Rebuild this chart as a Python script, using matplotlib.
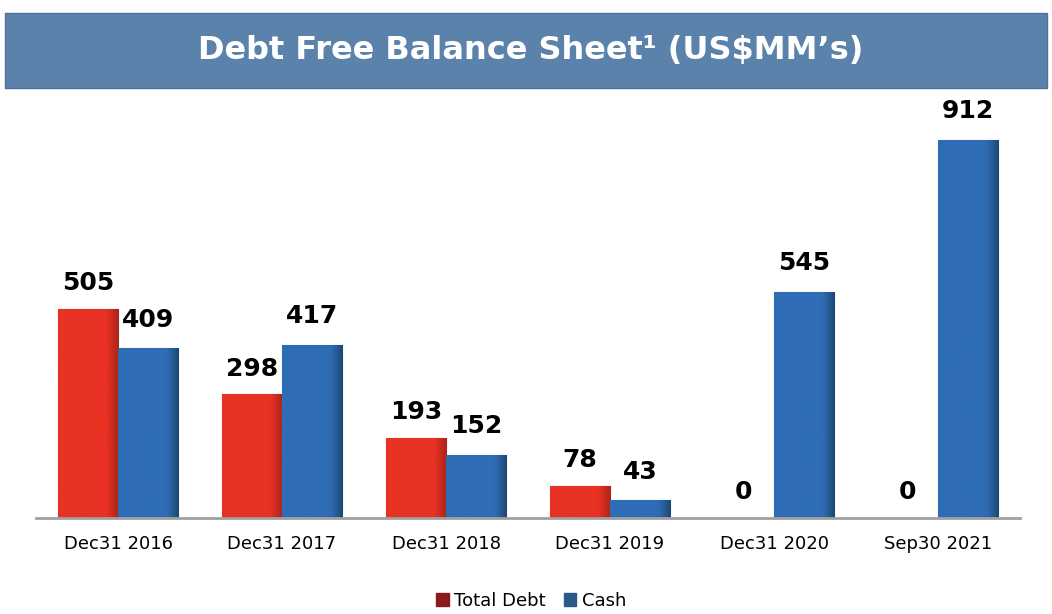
import matplotlib.pyplot as plt
import numpy as np
from matplotlib.patches import Rectangle, Patch
from matplotlib.colors import LinearSegmentedColormap

categories = ['Dec31 2016', 'Dec31 2017', 'Dec31 2018', 'Dec31 2019', 'Dec31 2020', 'Sep30 2021']
total_debt = [505, 298, 193, 78, 0, 0]
cash = [409, 417, 152, 43, 545, 912]

red = '#e83223'
blue = '#2e6db5'

fig = plt.figure(figsize=(10.52, 6.14), dpi=100)
ax = fig.add_axes([36 / 1052, 1 - 518 / 614, 984 / 1052, 418 / 614])

# title banner
fig.patches.append(Rectangle((5 / 1052, 1 - 88 / 614), 1042 / 1052, 75 / 614,
                             transform=fig.transFigure, facecolor='#5b82ab',
                             edgecolor='#4d7299', lw=1, zorder=0))
fig.text(531 / 1052, 1 - 51 / 614, 'Debt Free Balance Sheet¹ (US$MM’s)',
         ha='center', va='center', color='white', fontsize=23, fontweight='bold')

x = np.arange(len(categories))
w = 0.366
b1 = ax.bar(x - w / 2, total_debt, w, color=red, edgecolor='#c22a1c', lw=0.8)
b2 = ax.bar(x + w / 2, cash, w, color=blue, edgecolor='#3f7fc0', lw=0.8)

# soft shading towards the right edge of each bar
grad = np.linspace(0, 1, 100).reshape(1, -1) ** 3
cm_red = LinearSegmentedColormap.from_list('r', [red, red, '#a8231a'])
cm_blue = LinearSegmentedColormap.from_list('b', [blue, blue, '#1d4670'])
for bars, cm in [(b1, cm_red), (b2, cm_blue)]:
    for p in bars:
        if p.get_height() <= 0:
            continue
        im = ax.imshow(grad, extent=[p.get_x(), p.get_x() + p.get_width(), 0, p.get_height()],
                       aspect='auto', cmap=cm, zorder=2)
        im.set_clip_path(p)

for xi, v in zip(x, total_debt):
    ax.annotate(str(v), (xi - w / 2, v), xytext=(0, 10), textcoords='offset points',
                ha='center', va='bottom', fontsize=18, fontweight='bold')
for xi, v in zip(x, cash):
    ax.annotate(str(v), (xi + w / 2, v), xytext=(0, 12), textcoords='offset points',
                ha='center', va='bottom', fontsize=18, fontweight='bold')

ax.set_xlim(-0.5, 5.5)
ax.set_ylim(0, 1008)
ax.set_xticks(x)
ax.set_xticklabels(categories, fontsize=13)
ax.tick_params(axis='x', length=0, pad=12)
ax.set_yticks([])
for s in ['top', 'right', 'left']:
    ax.spines[s].set_visible(False)
ax.spines['bottom'].set_color('#a0a0a0')
ax.spines['bottom'].set_linewidth(2)
ax.spines['bottom'].set_zorder(5)

handles = [Patch(color='#8b1a1a'), Patch(color='#2a5a8a')]
fig.legend(handles, ['Total Debt', 'Cash'], loc='center', bbox_to_anchor=(531 / 1052, 1 - 601 / 614),
           ncol=2, frameon=False, fontsize=13, handlelength=0.7, handleheight=0.7,
           handletextpad=0.3, columnspacing=1.0)

plt.savefig('out.png', dpi=100)
